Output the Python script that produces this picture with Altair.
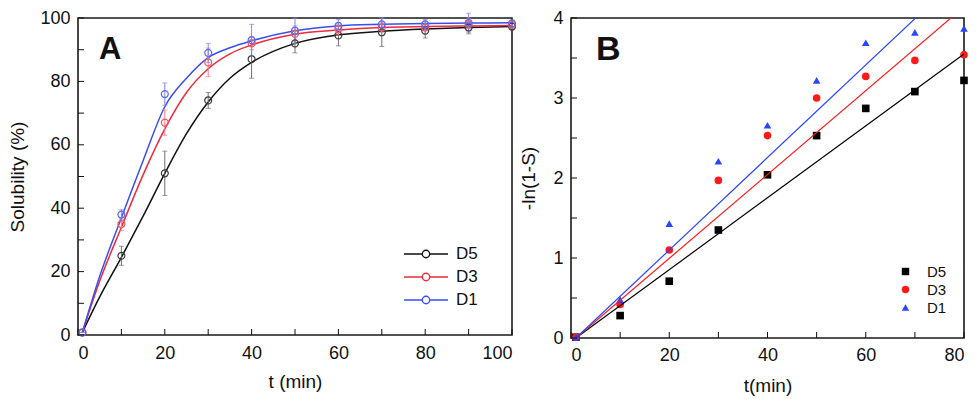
import altair as alt
import pandas as pd

FONT = "Liberation Sans"

# ---------------- Panel A data ----------------
series_order = ["D5", "D3", "D1"]

t_pts = [1, 10, 20, 30, 40, 50, 60, 70, 80, 90, 100]
d5_pts = [0.8, 25, 51, 74, 87, 92, 94.5, 95.5, 96, 97, 97.3]
d5_err = [0, 3, 7, 2.5, 6, 3, 3.3, 4.5, 2.3, 2, 1]
d3_pts = [0.8, 35, 67, 86, 92, 95, 96.5, 97, 97, 98, 97.8]
d3_err = [0, 2, 4, 4.5, 2, 2.5, 2, 1.5, 2, 2, 1]
d1_pts = [0.8, 38, 76, 89, 93, 96, 97.5, 98, 98, 98.5, 98.3]
d1_err = [0, 1.5, 3.5, 3, 5, 4, 2, 2, 1.5, 3, 1]

# fitted curves
t_fit = [1, 5, 10, 15, 20, 25, 30, 35, 40, 50, 60, 70, 80, 90, 100]
d5_fit = [0.8, 12, 24.5, 37.5, 51, 63.5, 73.5, 81, 86, 92, 94.7, 95.8, 96.5, 97, 97.3]
d3_fit = [0.8, 17, 34, 50.5, 65, 76.5, 84, 88.7, 91.5, 94.9, 96.2, 97, 97.3, 97.5, 97.6]
d1_fit = [0.8, 18.5, 37, 55, 72, 81, 87.5, 90.6, 92.8, 96, 97.5, 98, 98.3, 98.4, 98.5]

# tick values
a_xticks = list(range(0, 101, 10))
a_yticks = list(range(0, 101, 10))
b_xticks = list(range(0, 81, 10))
b_yticks = [0, 0.5, 1, 1.5, 2, 2.5, 3, 3.5, 4]

line_col = {"D5": "#111111", "D3": "#ee2b3b", "D1": "#3a4ef0"}
pt_col = {"D5": "#3a3a3a", "D3": "#ee5566", "D1": "#5a6af0"}
err_col = {"D5": "#707070", "D3": "#f07c8a", "D1": "#7a88f0"}

# ---------------- Panel B data ----------------
tb = [1, 10, 20, 30, 40, 50, 60, 70, 80]
b_d5 = [0.01, 0.28, 0.71, 1.35, 2.04, 2.53, 2.87, 3.08, 3.22]
b_d3 = [0.01, 0.42, 1.10, 1.97, 2.53, 3.00, 3.27, 3.47, 3.54]
b_d1 = [0.01, 0.48, 1.43, 2.21, 2.66, 3.22, 3.69, 3.82, 3.87]
tb_fit = [1, 80]
bfit_d5 = [0.0, 3.55]
bfit_d3 = [0.0, 4.14]
bfit_d1 = [0.0, 4.57]
b_col = {"D5": "#000000", "D3": "#ff1a1a", "D1": "#2b45ff"}
b_shape = {"D5": "square", "D3": "circle", "D1": "triangle-up"}

# ---------------- build tables ----------------
fit_rows = []
for s, vals in zip(series_order, [d5_fit, d3_fit, d1_fit]):
    for t, v in zip(t_fit, vals):
        fit_rows.append({"t": t, "v": v, "series": s})
df_fit = pd.DataFrame(fit_rows)

pt_rows = []
for s, vals, errs in zip(series_order, [d5_pts, d3_pts, d1_pts], [d5_err, d3_err, d1_err]):
    for t, v, e in zip(t_pts, vals, errs):
        pt_rows.append({"t": t, "v": v, "lo": v - e, "hi": v + e, "series": s,
                        "pc": pt_col[s], "ec": err_col[s]})
df_pts = pd.DataFrame(pt_rows)

b_rows = []
for s, vals in zip(series_order, [b_d5, b_d3, b_d1]):
    for t, v in zip(tb, vals):
        b_rows.append({"t": t, "v": v, "series": s})
df_b = pd.DataFrame(b_rows)

bf_rows = []
for s, vals in zip(series_order, [bfit_d5, bfit_d3, bfit_d1]):
    for t, v in zip(tb_fit, vals):
        bf_rows.append({"t": t, "v": v, "series": s, "lc": b_col[s]})
df_bf = pd.DataFrame(bf_rows)


def axis(title, values, expr, title_pad, label_pad):
    return alt.Axis(
        title=title, values=values, labelExpr=expr, domain=False, ticks=False,
        grid=False, labelFont=FONT, labelFontSize=18, labelColor="#111",
        labelOverlap=False, labelPadding=label_pad, titleFont=FONT, titleFontSize=19,
        titleFontWeight="normal", titleColor="#111", titlePadding=title_pad,
    )


def inward_ticks(xs, ys, xscale, yscale, w, h):
    tx = alt.Chart(pd.DataFrame({"t": xs})).mark_rule(color="#111", strokeWidth=1).encode(
        x=alt.X("t:Q", scale=xscale), y=alt.value(h), y2=alt.value(h - 6))
    ty = alt.Chart(pd.DataFrame({"v": ys})).mark_rule(color="#111", strokeWidth=1).encode(
        y=alt.Y("v:Q", scale=yscale), x=alt.value(0), x2=alt.value(6))
    return [tx, ty]


# ---------------- Panel A ----------------
WA, HA = 434, 317
sxA = alt.Scale(domain=[0, 100], nice=False)
syA = alt.Scale(domain=[0, 100], nice=False)
xA = alt.X("t:Q", scale=sxA,
           axis=axis("t (min)", a_xticks, "datum.value % 20 == 0 ? datum.label : ''", 10, 9))
yA = alt.Y("v:Q", scale=syA,
           axis=axis("Solubility (%)", a_yticks,
                     "datum.value % 20 == 0 ? datum.label : ''", 12, 8))

legend_path = ("M-2.2,0H-0.37M0.37,0H2.2M0.37,0A0.37,0.37,0,1,1,-0.37,0"
               "A0.37,0.37,0,1,1,0.37,0Z")

errA = alt.Chart(df_pts).mark_errorbar(ticks=True, thickness=1).encode(
    x=alt.X("t:Q", scale=sxA), y=alt.Y("lo:Q", scale=syA, title=""),
    y2="hi:Q", color=alt.Color("ec:N", scale=None), detail="series:N")

linesA = alt.Chart(df_fit).mark_line(interpolate="monotone", strokeWidth=1.5).encode(
    x=xA, y=yA,
    color=alt.Color("series:N",
                    scale=alt.Scale(domain=series_order,
                                    range=[line_col[s] for s in series_order]),
                    sort=series_order,
                    legend=alt.Legend(title=None, orient="none", legendX=337, legendY=225,
                                      symbolType=legend_path, symbolSize=400,
                                      symbolStrokeWidth=1.4, symbolFillColor="white",
                                      labelFont=FONT, labelFontSize=17, labelColor="#111",
                                      labelOffset=19, rowPadding=4, padding=0)))

ptsA = alt.Chart(df_pts).mark_point(filled=False, size=48, strokeWidth=1.2, opacity=1).encode(
    x=alt.X("t:Q", scale=sxA), y=alt.Y("v:Q", scale=syA),
    stroke=alt.Stroke("pc:N", scale=None))

labA = alt.Chart(pd.DataFrame({"lab": ["A"]})).mark_text(
    font=FONT, fontSize=31, fontWeight="bold", align="left", baseline="alphabetic",
    color="#111").encode(x=alt.value(21), y=alt.value(41), text="lab:N")

panelA = alt.layer(
    linesA, errA, ptsA, labA, *inward_ticks(a_xticks, a_yticks, sxA, syA, WA, HA)
).resolve_scale(color="independent").properties(width=WA, height=HA)

# ---------------- Panel B ----------------
WB, HB = 393, 320
sxB = alt.Scale(domain=[0, 80], nice=False)
syB = alt.Scale(domain=[0, 4], nice=False)
xB = alt.X("t:Q", scale=sxB,
           axis=axis("t(min)", b_xticks, "datum.value % 20 == 0 ? datum.label : ''", 12, 8))
yB = alt.Y("v:Q", scale=syB,
           axis=axis("-ln(1-S)", b_yticks,
                     "datum.value % 1 == 0 ? format(datum.value, 'd') : ''", 14, 8))

linesB = alt.Chart(df_bf).mark_line(strokeWidth=1.2, clip=True).encode(
    x=alt.X("t:Q", scale=sxB), y=alt.Y("v:Q", scale=syB),
    stroke=alt.Stroke("lc:N", scale=None), detail="series:N")

legB = alt.Legend(title=None, orient="none", legendX=327, legendY=246,
                  symbolSize=55, labelFont=FONT, labelFontSize=15,
                  labelColor="#111", labelOffset=14, rowPadding=2, padding=0)

ptsB = alt.Chart(df_b).mark_point(filled=True, size=58, opacity=1).encode(
    x=xB, y=yB,
    color=alt.Color("series:N",
                    scale=alt.Scale(domain=series_order,
                                    range=[b_col[s] for s in series_order]),
                    sort=series_order, legend=legB),
    shape=alt.Shape("series:N",
                    scale=alt.Scale(domain=series_order,
                                    range=[b_shape[s] for s in series_order]),
                    sort=series_order, legend=legB))

labB = alt.Chart(pd.DataFrame({"lab": ["B"]})).mark_text(
    font=FONT, fontSize=34, fontWeight="bold", align="left", baseline="alphabetic",
    color="#111").encode(x=alt.value(25), y=alt.value(42), text="lab:N")

panelB = alt.layer(
    ptsB, linesB, labB, *inward_ticks(b_xticks, b_yticks, sxB, syB, WB, HB)
).properties(width=WB, height=HB)

chart = alt.hconcat(panelA, panelB, spacing=0).resolve_scale(
    color="independent", shape="independent"
).properties(
    padding={"left": 0, "top": 0, "right": 0, "bottom": 0}
).configure_view(stroke="#1a1a1a", strokeWidth=1.6)

chart.save("out.html", embed_options={"renderer": "svg", "actions": False})
